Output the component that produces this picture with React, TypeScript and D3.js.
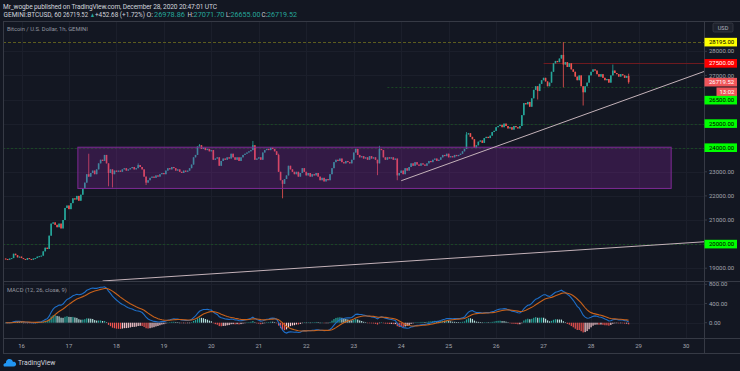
import React, { useEffect, useRef } from "react";
import * as d3 from "d3";

// first hourly bar on the chart (GEMINI BTCUSD, 60)
const START = Date.UTC(2020, 11, 15, 16);
const HOUR = 3600 * 1000;
const FIRST_OPEN = 19400;

// hourly closes
const closes = [
  19380, 19350, 19400, 19420, 19600, 19540, 19450, 19480, 19420, 19380, 19350,
  19420, 19380, 19350, 19400, 19420, 19480, 19500, 19520, 19700, 19850, 19800,
  20350, 20850, 20900, 20800, 20700, 20850, 20650, 21000, 21500, 21600, 21450,
  21700, 21900, 21850, 22000, 21800, 22050, 22300, 22550, 22900, 22800, 22950,
  23050, 22900, 23100, 23350, 23500, 23450, 23700, 23350, 22950, 23100, 22900,
  23050, 23000,
  // dec 18
  23050, 23000, 23100, 23150, 23050, 23100, 23150, 23200, 23100, 23150, 23280,
  23200, 23100, 22800, 22550, 22650, 22750, 22800, 22750, 22850, 22800, 22900,
  22950, 22900,
  // dec 19
  23050, 23150, 23100, 23200, 23150, 23050, 23100, 23000, 22950, 23050, 23000,
  23050, 23150, 23300, 23600, 23700, 24050, 24100, 23950, 24000, 23900, 23950,
  23850, 23900,
  // dec 20
  23500, 23550, 23600, 23250, 23450, 23550, 23500, 23600, 23550, 23750, 23600,
  23500, 23600, 23450, 23600, 23700, 23750, 23800, 23850, 23900, 24100, 23500,
  23550,
  // dec 21
  23600, 23500, 23800, 23900, 23950, 23900, 24000, 23950, 23850, 23700, 23000,
  22650, 22500, 22700, 22850, 23250, 23100, 23000, 22900, 23000, 22800, 22950,
  23150, 23000, 22850,
  // dec 22
  22950, 22800, 22900, 22850, 22950, 22800, 22650, 22750, 22600, 22700, 22650,
  22900, 23150, 23400, 23500, 23450, 23550, 23400, 23350, 23450, 23400, 23350,
  23500,
  // dec 23
  23800, 23950, 23700, 23600, 23650, 23550, 23600, 23500, 23650, 23550, 23600,
  23500, 23350, 23950, 23900, 23600, 23500, 23600, 23550, 23600, 23500, 23550,
  // dec 24
  22850, 22950, 23050, 22900, 23150, 23050, 23200, 23350, 23250, 23400, 23300,
  23250, 23350, 23300, 23250, 23350, 23450, 23400, 23500, 23550, 23450, 23500,
  23600, 23700, 23650,
  // dec 25
  23750, 23600, 23650, 23600, 23700, 23650, 23700, 23750, 23850, 23950, 24550,
  24600, 24450, 24350, 24000, 24100, 24250, 24300, 24200, 24400, 24450, 24400,
  24500, 24650,
  // dec 26
  24700, 24850, 24900, 24950, 24850, 25000, 24900, 24800, 24850, 24750, 24900,
  24850, 24800, 24900, 25350, 25850, 25800, 25900, 25700, 26050, 26400, 26550,
  26350, 26650,
  // dec 27
  26800, 26900, 26750, 26550, 26700, 27150, 27500, 27600, 27550, 27700, 27850,
  27450, 27550, 27350, 27500, 27250, 27150, 26950, 26800, 27000, 26550, 26300,
  26550,
  // dec 28
  26700, 27000, 27150, 27250, 27200, 27050, 26950, 27050, 26900, 26800, 26850,
  26700, 27000, 27200, 27100, 27050, 26950, 27050, 27000, 26900, 26978.86,
  26719.52,
];

// bars with wicks that stand out: index, high, low
const wickBars = [42, 52, 54, 67, 71, 98, 125, 138, 140, 188, 189, 198, 233, 269, 282, 292, 307, 315];
const wickHighs = [23750, null, null, 23350, null, 24150, 24280, 23750, null, null, 24080, null, 24650, null, 28380, null, 27450, 27071.7];
const wickLows = [null, 22400, 22350, null, 22450, null, null, null, 21900, 22860, null, 22650, null, 26000, 26500, 25750, null, 26655];

// horizontal levels drawn by the author
const levelPrices = [28380, 27500, 26500, 25000, 24000, 20000];
const levelLabels = ["28195.00", "27500.00", "26500.00", "25000.00", "24000.00", "20000.00"];
const levelStarts = [null, Date.UTC(2020, 11, 27, 0), Date.UTC(2020, 11, 23, 17), Date.UTC(2020, 11, 21, 0), null, null];

// range box
const zoneTimes = [Date.UTC(2020, 11, 17, 4, 30), Date.UTC(2020, 11, 29, 16, 30)];
const zonePrices = [24020, 22310];

// trend lines (two anchors each, extended to the right)
const supportTimes = [Date.UTC(2020, 11, 17, 17), Date.UTC(2020, 11, 30, 8)];
const supportPrices = [18470, 20090];
const riseTimes = [Date.UTC(2020, 11, 24, 0), Date.UTC(2020, 11, 28, 4)];
const risePrices = [22630, 25590];

const priceTicks = [19000, 20000, 21000, 22000, 23000, 24000, 25000, 26000, 27000, 28000];
const macdTicks = [0, 400, 800];
const dayTicks = [16, 17, 18, 19, 20, 21, 22, 23, 24, 25, 26, 27, 28, 29, 30];

const lastPrice = "26719.52";
const countdown = "13:02";

const W = 740;
const H = 371;
const FONT = "Roboto, 'Noto Sans', sans-serif";

const levelStyle = [
  { line: "#5c5c1e", dash: "3,2", bg: "#ffff00", fg: "#000" },
  { line: "#6e1a1f", dash: null, bg: "#ff0000", fg: "#fff" },
  { line: "#1a4624", dash: "2,2", bg: "#00ff00", fg: "#000" },
  { line: "#1a4624", dash: "2,2", bg: "#00ff00", fg: "#000" },
  { line: "#1a4624", dash: "2,2", bg: "#00ff00", fg: "#000" },
  { line: "#1a4624", dash: "2,2", bg: "#00ff00", fg: "#000" },
];

const ema = (v: number[], n: number) => {
  const k = 2 / (n + 1);
  const out: number[] = [];
  v.forEach((d, i) => out.push(i ? d * k + out[i - 1] * (1 - k) : d));
  return out;
};

const App = () => {
  const svgRef = useRef<SVGSVGElement>(null);

  useEffect(() => {
    const svg = d3.select(svgRef.current);
    svg.selectAll("*").remove();

    const left = 3;
    const axisX = 704;
    const mainTop = 21;
    const mainBottom = 281;
    const macdBottom = 338;
    const timeBottom = 353;

    const x = d3
      .scaleUtc()
      .domain([Date.UTC(2020, 11, 16), Date.UTC(2020, 11, 30)])
      .range([21.5, 686]);
    const y = d3.scaleLinear().domain([19000, 28000]).range([268.2, 51.3]);
    const ym = d3.scaleLinear().domain([0, 800]).range([322.7, 284.3]);

    const bars = closes.map((c, i) => {
      const o = i === 0 ? FIRST_OPEN : closes[i - 1];
      const w = wickBars.indexOf(i);
      const h = w >= 0 && wickHighs[w] != null ? (wickHighs[w] as number) : Math.max(o, c);
      const l = w >= 0 && wickLows[w] != null ? (wickLows[w] as number) : Math.min(o, c);
      return { t: START + i * HOUR, o, h, l, c };
    });

    // macd 12/26/9 on close
    const e12 = ema(closes, 12);
    const e26 = ema(closes, 26);
    const macd = e12.map((d, i) => d - e26[i]);
    const signal = ema(macd, 9);
    const hist = macd.map((d, i) => d - signal[i]);

    svg.append("rect").attr("width", W).attr("height", H).attr("fill", "#131722");

    const defs = svg.append("defs");
    defs
      .append("clipPath")
      .attr("id", "mainClip")
      .append("rect")
      .attr("x", left)
      .attr("y", mainTop)
      .attr("width", axisX - left)
      .attr("height", mainBottom - mainTop);
    defs
      .append("clipPath")
      .attr("id", "macdClip")
      .append("rect")
      .attr("x", left)
      .attr("y", mainBottom)
      .attr("width", axisX - left)
      .attr("height", macdBottom - mainBottom);

    // grid
    const grid = svg.append("g").attr("stroke", "#1b1f2b").attr("stroke-width", 1);
    dayTicks.forEach((d) => {
      const xx = Math.round(x(Date.UTC(2020, 11, d))) + 0.5;
      if (xx > axisX) return;
      grid.append("line").attr("x1", xx).attr("x2", xx).attr("y1", mainTop).attr("y2", macdBottom);
    });
    priceTicks.forEach((p) => {
      const yy = Math.round(y(p)) + 0.5;
      if (yy < mainTop || yy > mainBottom) return;
      grid.append("line").attr("x1", left).attr("x2", axisX).attr("y1", yy).attr("y2", yy);
    });
    macdTicks.forEach((p) => {
      const yy = Math.round(ym(p)) + 0.5;
      grid.append("line").attr("x1", left).attr("x2", axisX).attr("y1", yy).attr("y2", yy);
    });

    const main = svg.append("g").attr("clip-path", "url(#mainClip)");

    // levels
    levelPrices.forEach((p, i) => {
      const st = levelStyle[i];
      const yy = Math.round(y(p)) + 0.5;
      const x0 = levelStarts[i] == null ? left : x(levelStarts[i] as number);
      const ln = main
        .append("line")
        .attr("x1", x0)
        .attr("x2", axisX)
        .attr("y1", yy)
        .attr("y2", yy)
        .attr("stroke", st.line)
        .attr("stroke-width", 1);
      if (st.dash) ln.attr("stroke-dasharray", st.dash);
    });

    // candles
    const cg = main.append("g");
    bars.forEach((b) => {
      const col = b.c >= b.o ? "#26a69a" : "#ef5350";
      const cx = x(b.t);
      cg.append("line")
        .attr("x1", cx)
        .attr("x2", cx)
        .attr("y1", y(b.h))
        .attr("y2", y(b.l))
        .attr("stroke", col)
        .attr("stroke-width", 0.8);
      const top = y(Math.max(b.o, b.c));
      const hgt = Math.max(1, Math.abs(y(b.o) - y(b.c)));
      cg.append("rect")
        .attr("x", cx - 0.8)
        .attr("width", 1.6)
        .attr("y", top)
        .attr("height", hgt)
        .attr("fill", col);
    });

    // range box
    main
      .append("rect")
      .attr("x", x(zoneTimes[0]))
      .attr("width", x(zoneTimes[1]) - x(zoneTimes[0]))
      .attr("y", y(zonePrices[0]))
      .attr("height", y(zonePrices[1]) - y(zonePrices[0]))
      .attr("fill", "rgba(142, 36, 170, 0.26)")
      .attr("stroke", "#7e2a95")
      .attr("stroke-width", 1);

    // trend lines
    const ray = (ts: number[], ps: number[]) => {
      const x1 = x(ts[0]);
      const y1 = y(ps[0]);
      const slope = (y(ps[1]) - y1) / (x(ts[1]) - x1);
      main
        .append("line")
        .attr("x1", x1)
        .attr("y1", y1)
        .attr("x2", axisX)
        .attr("y2", y1 + slope * (axisX - x1))
        .attr("stroke", "#c4b2b9")
        .attr("stroke-width", 1);
    };
    ray(supportTimes, supportPrices);
    ray(riseTimes, risePrices);

    // macd pane
    const mg = svg.append("g").attr("clip-path", "url(#macdClip)");
    hist.forEach((h, i) => {
      const prev = i ? hist[i - 1] : 0;
      const col = h >= 0 ? (h >= prev ? "#26a69a" : "#b2dfdb") : h <= prev ? "#ef5350" : "#ffcdd2";
      const cx = x(bars[i].t);
      mg.append("rect")
        .attr("x", cx - 0.6)
        .attr("width", 1.2)
        .attr("y", Math.min(ym(h), ym(0)))
        .attr("height", Math.max(0.5, Math.abs(ym(h) - ym(0))))
        .attr("fill", col);
    });
    const mline = d3
      .line<number>()
      .x((d, i) => x(bars[i].t))
      .y((d) => ym(d));
    mg.append("path").attr("d", mline(macd)).attr("fill", "none").attr("stroke", "#1e6fc9").attr("stroke-width", 1.1);
    mg.append("path").attr("d", mline(signal)).attr("fill", "none").attr("stroke", "#c8621b").attr("stroke-width", 1.1);

    // frame
    const frame = svg.append("g").attr("stroke", "#363a45").attr("stroke-width", 1);
    frame.append("line").attr("x1", left).attr("x2", W).attr("y1", mainTop + 0.5).attr("y2", mainTop + 0.5);
    frame.append("line").attr("x1", left).attr("x2", W).attr("y1", mainBottom + 0.5).attr("y2", mainBottom + 0.5);
    frame.append("line").attr("x1", left).attr("x2", W).attr("y1", macdBottom + 0.5).attr("y2", macdBottom + 0.5);
    frame.append("line").attr("x1", left).attr("x2", W).attr("y1", timeBottom + 0.5).attr("y2", timeBottom + 0.5);
    frame.append("line").attr("x1", left + 0.5).attr("x2", left + 0.5).attr("y1", mainTop).attr("y2", timeBottom);
    frame.append("line").attr("x1", axisX + 0.5).attr("x2", axisX + 0.5).attr("y1", mainTop).attr("y2", timeBottom);

    // price axis labels
    const labels: { y: number; text: string; bg: string; fg: string; extra?: string }[] = [];
    levelPrices.forEach((p, i) => labels.push({ y: y(p), text: levelLabels[i], bg: levelStyle[i].bg, fg: levelStyle[i].fg }));
    labels.push({ y: y(closes[closes.length - 1]), text: lastPrice, bg: "#f0555a", fg: "#fff", extra: countdown });
    labels.sort((a, b) => a.y - b.y);
    let floor = -Infinity;
    labels.forEach((l) => {
      if (l.y - 4.5 < floor) l.y = floor + 4.5;
      floor = l.y + 4.5 + (l.extra ? 9 : 0);
    });

    const ax = svg.append("g").attr("font-family", FONT).attr("font-size", 6);
    priceTicks.forEach((p) => {
      const yy = y(p);
      if (labels.some((l) => Math.abs(l.y - yy) < 6)) return;
      ax.append("line").attr("x1", axisX).attr("x2", axisX + 3).attr("y1", yy).attr("y2", yy).attr("stroke", "#363a45");
      ax.append("text").attr("x", axisX + 5).attr("y", yy + 2.1).attr("fill", "#a3a6af").text(d3.format(".2f")(p));
    });
    macdTicks.forEach((p) => {
      const yy = ym(p);
      ax.append("line").attr("x1", axisX).attr("x2", axisX + 3).attr("y1", yy).attr("y2", yy).attr("stroke", "#363a45");
      ax.append("text").attr("x", axisX + 5).attr("y", yy + 2.1).attr("fill", "#a3a6af").text(d3.format(".2f")(p));
    });
    labels.forEach((l) => {
      ax.append("rect").attr("x", axisX + 0.5).attr("y", l.y - 4.3).attr("width", 32.5).attr("height", 8.6).attr("fill", l.bg);
      ax.append("text").attr("x", axisX + 5).attr("y", l.y + 2.1).attr("fill", l.fg).text(l.text);
      if (l.extra) {
        ax.append("rect").attr("x", 716.5).attr("y", l.y + 5.3).attr("width", 20.5).attr("height", 8.6).attr("fill", l.bg);
        ax.append("text").attr("x", 719.5).attr("y", l.y + 11.7).attr("fill", l.fg).text(l.extra);
      }
    });
    // currency badge
    ax.append("rect").attr("x", 713).attr("y", 23).attr("width", 20).attr("height", 9).attr("rx", 1.5).attr("fill", "#1e222d").attr("stroke", "#434651").attr("stroke-width", 0.6);
    ax.append("text").attr("x", 723).attr("y", 29.6).attr("text-anchor", "middle").attr("fill", "#b2b5be").attr("font-size", 5.6).text("USD");

    // time axis
    dayTicks.forEach((d) => {
      const xx = x(Date.UTC(2020, 11, d));
      ax.append("text").attr("x", xx).attr("y", 348.2).attr("text-anchor", "middle").attr("fill", "#a3a6af").text(String(d));
    });

    // titles
    const tg = svg.append("g").attr("font-family", FONT);
    tg.append("text")
      .attr("x", 3)
      .attr("y", 8.6)
      .attr("font-size", 6.6)
      .attr("fill", "#d1d4dc")
      .attr("textLength", 214)
      .text("Mr_wogbe published on TradingView.com, December 28, 2020 20:47:01 UTC");
    const hdr: [number, string, string, number][] = [
      [3.5, "GEMINI:BTCUSD, 60", "#d1d4dc", 58],
      [63, "26719.52", "#d1d4dc", 25],
      [90, "\u25B2", "#26a69a", 5],
      [95, "+452.68 (+1.72%)", "#d1d4dc", 50],
      [146.5, "O:", "#d1d4dc", 6.5],
      [154, "26978.86", "#26a69a", 31],
      [187.5, "H:", "#d1d4dc", 6],
      [193.5, "27071.70", "#26a69a", 31],
      [226, "L:", "#d1d4dc", 4.5],
      [230.5, "26655.00", "#26a69a", 30],
      [261.5, "C:", "#d1d4dc", 5.5],
      [267, "26719.52", "#26a69a", 30],
    ];
    hdr.forEach(([hx, t, c, len]) => {
      tg.append("text")
        .attr("x", hx)
        .attr("y", 17.4)
        .attr("font-size", 6.6)
        .attr("fill", c)
        .attr("textLength", len)
        .attr("lengthAdjust", "spacingAndGlyphs")
        .text(t);
    });
    tg.append("text").attr("x", 7).attr("y", 31.3).attr("font-size", 5.8).attr("fill", "#9598a1").text("Bitcoin / U.S. Dollar, 1h, GEMINI");
    tg.append("text").attr("x", 7).attr("y", 292.2).attr("font-size", 5.8).attr("fill", "#9598a1").text("MACD (12, 26, close, 9)");

    // logo
    const logo = svg.append("g").attr("transform", "translate(3,358)");
    logo
      .append("path")
      .attr("d", "M1.5 8.5 L10.5 8.5 C12.5 8.5 13.5 7 13 5.5 C12.5 4 11 3.5 10 4 C9.5 1.5 7.5 0.5 5.5 1 C3.5 1.5 2.8 3.5 3 5 C1.5 5 0.3 6 0.5 7.2 C0.6 8 1 8.5 1.5 8.5 Z")
      .attr("fill", "#2196f3");
    logo.append("text").attr("x", 15).attr("y", 7.3).attr("font-family", FONT).attr("font-size", 6.8).attr("fill", "#d1d4dc").text("TradingView");
  }, []);

  return (
    <svg
      ref={svgRef}
      width={W}
      height={H}
      style={{ position: "absolute", left: 0, top: 0, display: "block" }}
    />
  );
};

export default App;
